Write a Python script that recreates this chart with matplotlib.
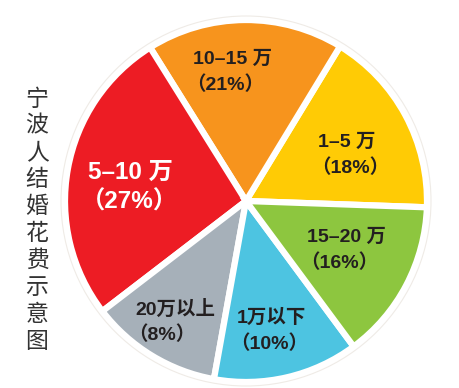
import matplotlib.pyplot as plt
import numpy as np

plt.rcParams['font.family'] = ['Liberation Sans', 'Noto Sans CJK SC', 'DejaVu Sans']

# slices, counter-clockwise from the right
ranges = ['1–5 万', '10–15 万', '5–10 万', '20万以上', '1万以下', '15–20 万']
percents = [18, 21, 27, 8, 10, 16]
# drawn slice sizes (degrees) as they appear in the picture
slice_deg = [60.7, 63.3, 95.5, 42.3, 46.7, 51.5]
colors = ['#FFCB05', '#F7941D', '#ED1C24', '#A6B0B9', '#4DC4E1', '#8DC63F']
text_colors = ['#231F20', '#231F20', 'white', '#231F20', '#231F20', '#231F20']
title = '宁波人结婚花费示意图'

W, H = 459, 388
fig = plt.figure(figsize=(W / 100, H / 100), dpi=100)
ax = fig.add_axes([0, 0, 1, 1])

cx, cy, r = 246, 201, 181
ax.pie(slice_deg, colors=colors, startangle=2, counterclock=False,
       center=(cx, cy), radius=r, frame=True,
       wedgeprops=dict(edgecolor='white', linewidth=4.5))
ax.set_xlim(0, W)
ax.set_ylim(H, 0)
ax.set_aspect('equal')
ax.axis('off')
ax.add_patch(plt.Circle((cx, cy), 185, fill=False, edgecolor='#EFEBE6', lw=0.8))

# label anchors (left edge, first-line centre y)
anchors = [(318, 142), (193, 59), (88, 172), (135, 309), (237, 318), (307, 237)]
for (x, y), rng, p, tc in zip(anchors, ranges, percents, text_colors):
    fs = 17.5 if p == 27 else 14
    gap = 30 if p == 27 else 26
    ax.text(x, y, rng, fontsize=fs, fontweight='bold', color=tc,
            ha='left', va='center')
    ax.text(x - 7, y + gap, '（%d%%）' % p, fontsize=fs, fontweight='bold',
            color=tc, ha='left', va='center')

ys = np.linspace(87 + 12, 353 - 12, len(title))
for ch, y in zip(title, ys):
    ax.text(37, y, ch, fontsize=16.5, color='#333333', ha='center', va='center',
            family='Noto Sans CJK SC')

fig.savefig('out.png', dpi=100)
